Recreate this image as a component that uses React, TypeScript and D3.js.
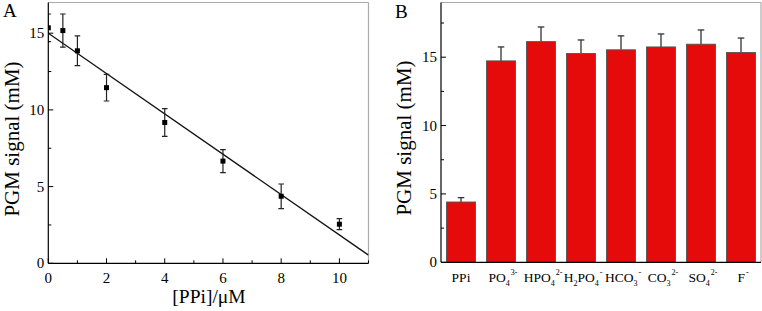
import React from "react";
import * as d3 from "d3";

// Panel A data
const ppiConc = [0, 0.5, 1, 2, 4, 6, 8, 10];
const ppiSignal = [15.35, 15.17, 13.85, 11.45, 9.18, 6.66, 4.37, 2.55];
const ppiError = [0.9, 1.08, 0.97, 0.87, 0.9, 0.75, 0.8, 0.36];
const fitIntercept = 15.0;
const fitSlope = -1.315;
const xTicksA = [0, 2, 4, 6, 8, 10];
const yTicksA = [0, 5, 10, 15];

// Panel B data
const anionIds = ["PPi", "PO4", "HPO4", "H2PO4", "HCO3", "CO3", "SO4", "F"];
const anionLabels: [string, string][][] = [
  [["PPi", ""]],
  [["PO", ""], ["4", "sub"], ["3-", "sup"]],
  [["HPO", ""], ["4", "sub"], ["2-", "sup"]],
  [["H", ""], ["2", "sub"], ["PO", "base"], ["4", "sub"], ["-", "sup"]],
  [["HCO", ""], ["3", "sub"], ["-", "sup"]],
  [["CO", ""], ["3", "sub"], ["2-", "sup"]],
  [["SO", ""], ["4", "sub"], ["2-", "sup"]],
  [["F", ""], ["-", "sup"]],
];
const anionSignal = [4.41, 14.73, 16.14, 15.27, 15.54, 15.75, 15.95, 15.34];
const anionError = [0.32, 1.02, 1.07, 0.99, 1.02, 0.95, 1.04, 1.06];
const yTicksB = [0, 5, 10, 15];

const FONT = '"Liberation Serif", "Times New Roman", Times, serif';

function PanelA() {
  const left = 48.3, right = 368.5, top = 2.5, bottom = 263.3;
  const x = d3.scaleLinear().domain([0, 11]).range([left, right]);
  const y = d3.scaleLinear().domain([0, 17]).range([bottom, top]);
  const minorX = d3.range(0, 11.01, 1).filter((v) => v % 2 !== 0);
  const minorY = d3.range(2.5, 17, 5);
  const line = d3.line<number>().x((d) => x(d)).y((d) => y(fitIntercept + fitSlope * d));
  return (
    <g>
      <defs>
        <clipPath id="clipA">
          <rect x={left} y={top} width={right - left} height={bottom - top} />
        </clipPath>
      </defs>
      <line x1={left} x2={right} y1={top} y2={top} stroke="#aaa" strokeWidth={1.2} />
      <line x1={right} x2={right} y1={top} y2={bottom} stroke="#aaa" strokeWidth={1.2} />
      <g clipPath="url(#clipA)">
        <path d={line([0, 11]) || ""} stroke="#111" strokeWidth={1.3} fill="none" />
        {ppiConc.map((c, i) => (
          <g key={i}>
            <line x1={x(c)} x2={x(c)} y1={y(ppiSignal[i] - ppiError[i])} y2={y(ppiSignal[i] + ppiError[i])} stroke="#222" strokeWidth={1.2} />
            <line x1={x(c) - 2.8} x2={x(c) + 2.8} y1={y(ppiSignal[i] + ppiError[i])} y2={y(ppiSignal[i] + ppiError[i])} stroke="#222" strokeWidth={1.2} />
            <line x1={x(c) - 2.8} x2={x(c) + 2.8} y1={y(ppiSignal[i] - ppiError[i])} y2={y(ppiSignal[i] - ppiError[i])} stroke="#222" strokeWidth={1.2} />
            <rect x={x(c) - 2.5} y={y(ppiSignal[i]) - 2.5} width={5} height={5} fill="#000" />
          </g>
        ))}
      </g>
      <line x1={left} x2={right} y1={bottom} y2={bottom} stroke="#000" strokeWidth={1.2} />
      <line x1={left} x2={left} y1={top} y2={bottom} stroke="#000" strokeWidth={1.2} />
      {xTicksA.map((t) => (
        <g key={t}>
          <line x1={x(t)} x2={x(t)} y1={bottom} y2={bottom - 5} stroke="#000" strokeWidth={1} />
          <text x={x(t)} y={282.5} textAnchor="middle" fontSize={15} style={{ fontFamily: FONT }}>{t}</text>
        </g>
      ))}
      {minorX.map((t) => (
        <line key={t} x1={x(t)} x2={x(t)} y1={bottom} y2={bottom - 3} stroke="#000" strokeWidth={1} />
      ))}
      {yTicksA.map((t) => (
        <g key={t}>
          <line x1={left} x2={left + 5} y1={y(t)} y2={y(t)} stroke="#000" strokeWidth={1} />
          <text x={left - 4} y={y(t) + 5} textAnchor="end" fontSize={15} style={{ fontFamily: FONT }}>{t}</text>
        </g>
      ))}
      {minorY.map((t) => (
        <line key={t} x1={left} x2={left + 3} y1={y(t)} y2={y(t)} stroke="#000" strokeWidth={1} />
      ))}
      <text x={3} y={17} fontSize={19} style={{ fontFamily: FONT }}>A</text>
      <text transform="translate(18.5,139) rotate(-90)" textAnchor="middle" fontSize={21} style={{ fontFamily: FONT }}>PGM signal (mM)</text>
      <text x={209} y={302.5} textAnchor="middle" fontSize={19.5} style={{ fontFamily: FONT }}>[PPi]/μM</text>
    </g>
  );
}

function PanelB() {
  const left = 441, right = 761, top = 2.5, bottom = 262.3;
  const x = d3.scaleBand<string>().domain(anionIds).range([left, right]).paddingInner(0.275).paddingOuter(0.1375);
  const y = d3.scaleLinear().domain([0, 19]).range([bottom, top]);
  const minorY = d3.range(2.5, 19, 5);
  return (
    <g>
      <line x1={left} x2={right} y1={top} y2={top} stroke="#aaa" strokeWidth={1.2} />
      <line x1={right} x2={right} y1={top} y2={bottom} stroke="#aaa" strokeWidth={1.2} />
      {anionIds.map((id, i) => {
        const bx = x(id) as number;
        const bw = x.bandwidth();
        const cx = bx + bw / 2;
        const topV = y(anionSignal[i] + anionError[i]);
        return (
          <g key={id}>
            <line x1={cx} x2={cx} y1={y(anionSignal[i])} y2={topV} stroke="#333" strokeWidth={1.3} />
            <line x1={cx - 3.3} x2={cx + 3.3} y1={topV} y2={topV} stroke="#333" strokeWidth={1.3} />
            <rect x={bx} y={y(anionSignal[i])} width={bw} height={bottom - y(anionSignal[i])} fill="#e50b0b" stroke="#555" strokeWidth={0.9} />
            <text x={cx + (i === 0 ? 0 : 2)} y={281.5} textAnchor="middle" fontSize={13.5} style={{ fontFamily: FONT }}>
              {anionLabels[i].map(([s, kind], k) => {
                if (kind === "sub") return <tspan key={k} dy={4} fontSize={8}>{s}</tspan>;
                if (kind === "sup") {
                  const prevSub = k > 0 && anionLabels[i][k - 1][1] === "sub";
                  return <tspan key={k} dx={1} dy={prevSub ? -11 : -7} fontSize={8}>{s}</tspan>;
                }
                if (kind === "base") return <tspan key={k} dy={-4}>{s}</tspan>;
                return <tspan key={k}>{s}</tspan>;
              })}
            </text>
          </g>
        );
      })}
      <line x1={left} x2={right} y1={bottom} y2={bottom} stroke="#000" strokeWidth={1.2} />
      <line x1={left} x2={left} y1={top} y2={bottom} stroke="#000" strokeWidth={1.2} />
      {yTicksB.map((t) => (
        <g key={t}>
          <line x1={left} x2={left + 5} y1={y(t)} y2={y(t)} stroke="#000" strokeWidth={1} />
          <text x={left - 4} y={y(t) + 5} textAnchor="end" fontSize={15} style={{ fontFamily: FONT }}>{t}</text>
        </g>
      ))}
      {minorY.map((t) => (
        <line key={t} x1={left} x2={left + 3} y1={y(t)} y2={y(t)} stroke="#000" strokeWidth={1} />
      ))}
      <text x={395} y={18} fontSize={19} style={{ fontFamily: FONT }}>B</text>
      <text transform="translate(411,138) rotate(-90)" textAnchor="middle" fontSize={21} style={{ fontFamily: FONT }}>PGM signal (mM)</text>
    </g>
  );
}

export default function App() {
  return (
    <svg width={762} height={311} style={{ position: "absolute", left: 0, top: 0, background: "#fff" }}>
      <PanelA />
      <PanelB />
    </svg>
  );
}
